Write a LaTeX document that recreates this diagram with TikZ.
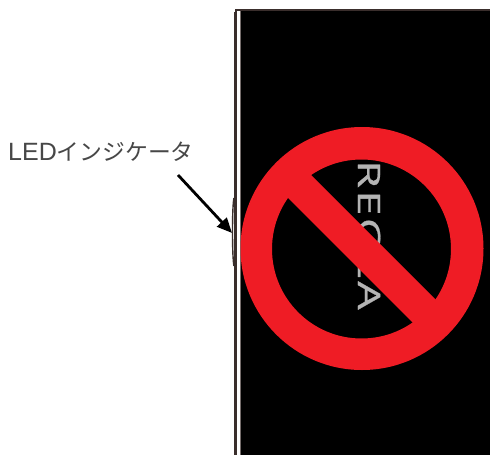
\documentclass[tikz,border=0pt]{standalone}
\usepackage{fontspec}
\setmainfont{Liberation Sans}
\newfontfamily\cjk{Noto Sans CJK JP}
\newfontfamily\brand[RawFeature={embolden=0.7}]{Open Sans}
\usetikzlibrary{arrows.meta}
\definecolor{redsign}{HTML}{EF1C25}
\definecolor{frame}{HTML}{3A2E2C}
\definecolor{brandgray}{HTML}{B4B4B4}
\tikzset{
  framestroke/.style={draw=frame,line width=2pt},
  callout/.style={-{Triangle[length=15pt,width=13pt]},line width=2.8pt,black},
  label/.style={inner sep=0pt,anchor=west,text=black!72},
  brandtext/.style={inner sep=0pt,text=brandgray,rotate=-90,font=\brand\fontsize{31}{33}\selectfont}
}
\begin{document}
\begin{tikzpicture}[x=1pt,y=-1pt]
\useasboundingbox[fill=white] (0,0) rectangle (490,455);
% panel
\fill[black] (241,11) rectangle (490,455);
% outer frame
\draw[framestroke] (236,455) -- (236,9.5) -- (490,9.5);
\draw[frame,line width=1.1pt] (234.4,12) -- (234.4,455);
\draw[frame!70,line width=1pt] (240,11) -- (240,455);
% LED bulge
\draw[frame,line width=1.4pt] (234,198) .. controls (232,205) and (232,258) .. (234,266);
% brand
\node[brandtext] (brand) at (369,235) {\scalebox{1.45}[1]{R\hspace{1.7pt}E\hspace{1.7pt}G\hspace{1.7pt}Z\hspace{1.7pt}A}};
% prohibition sign
\fill[redsign,even odd rule] (362,248.5) circle[radius=121.5] (361.5,249) circle[radius=89.5];
\fill[redsign] (296,160) -- (450,314) -- (427,337) -- (273,183) -- cycle;
% label and arrow
\node[label] (led) at (8,152) {\fontsize{25}{26}\selectfont LED\cjk\fontsize{22.8}{24}\selectfont インジケータ};
\coordinate (arrowstart) at (178,175);
\coordinate (arrowend) at (232,233);
\draw[callout] (arrowstart) -- (arrowend);
\end{tikzpicture}
\end{document}
